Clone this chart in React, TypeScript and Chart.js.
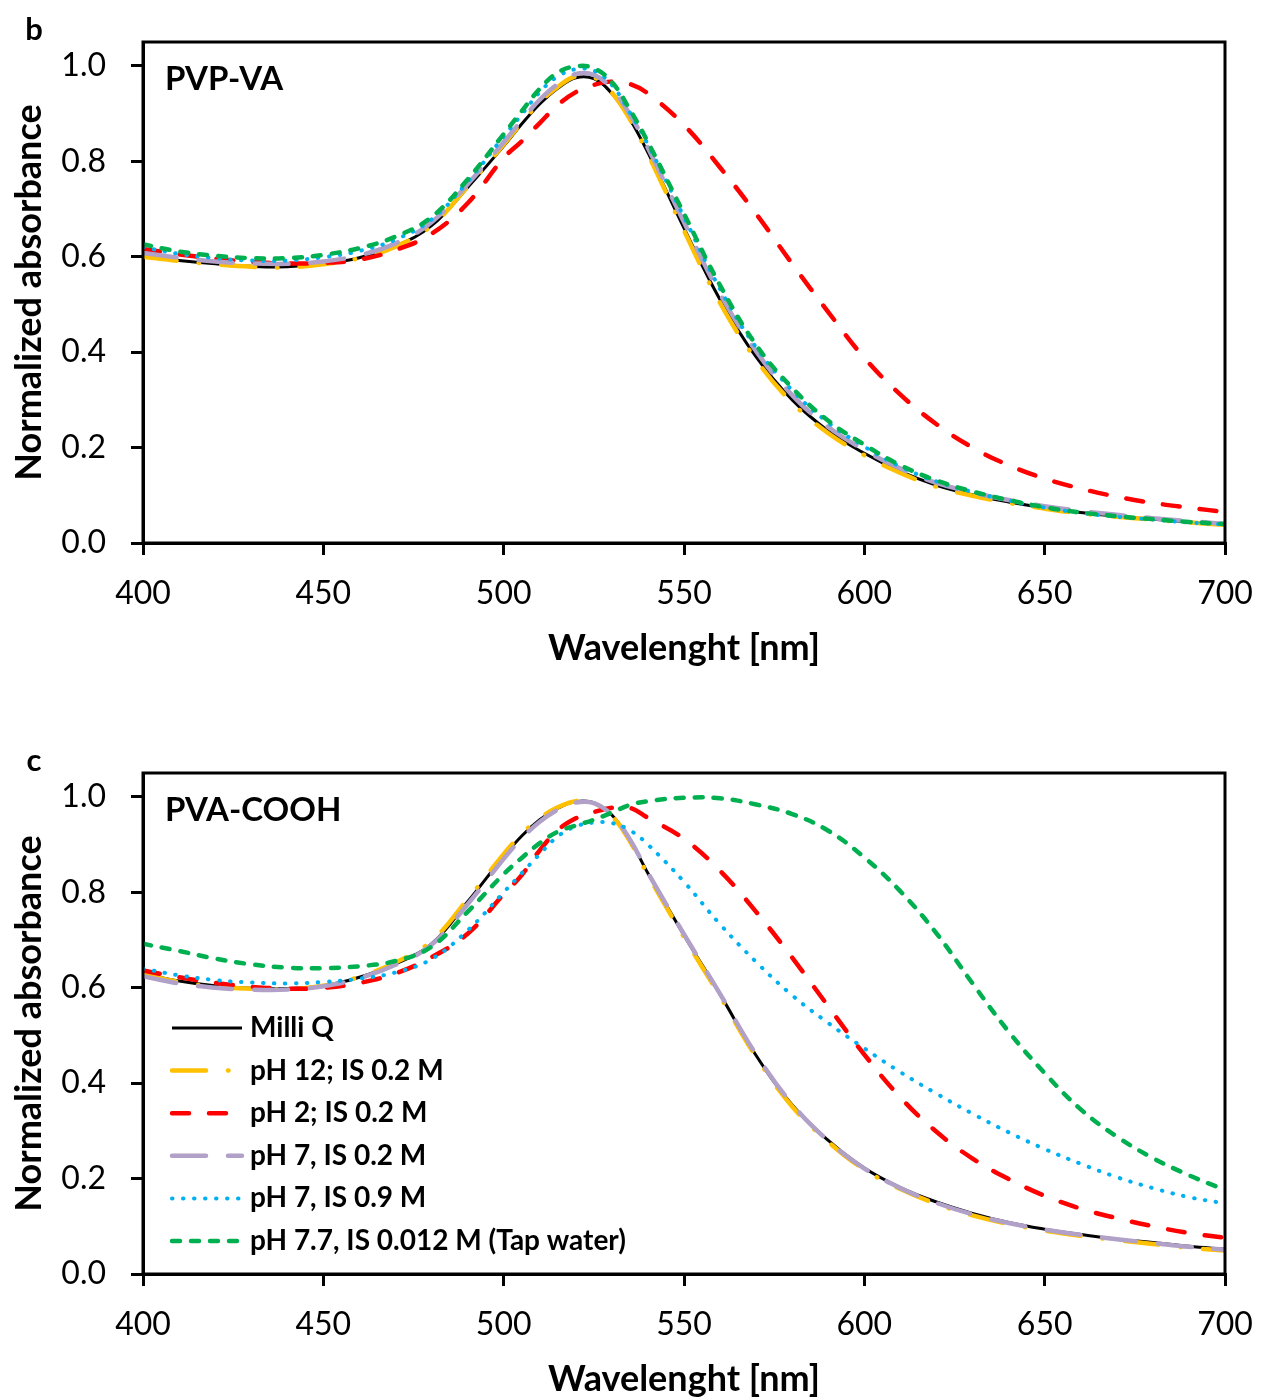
import { useEffect, useRef } from "react";
import { Chart, registerables } from "chart.js";

Chart.register(...registerables);

// ---------- data ----------
const wavelengths = [
  400, 410, 420, 430, 440, 450, 460, 470, 480, 490, 500, 505, 510, 515, 520, 525, 530, 535, 540,
  550, 560, 570, 580, 590, 600, 610, 620, 630, 640, 650, 660, 670, 680, 690, 700,
];

const seriesLabels = [
  "Milli Q",
  "pH 12; IS 0.2 M",
  "pH 2; IS 0.2 M",
  "pH 7, IS 0.2 M",
  "pH 7, IS 0.9 M",
  "pH 7.7, IS 0.012 M (Tap water)",
];

const xTicks = [400, 450, 500, 550, 600, 650, 700];
const yTicks = [0.0, 0.2, 0.4, 0.6, 0.8, 1.0];

// Panel b: PVP-VA
const pvpMilliQ = [0.601, 0.592, 0.585, 0.580, 0.579, 0.585, 0.598, 0.622, 0.665, 0.745, 0.832, 0.878, 0.920, 0.953, 0.975, 0.973, 0.942, 0.888, 0.818, 0.660, 0.510, 0.390, 0.300, 0.235, 0.188, 0.150, 0.121, 0.101, 0.086, 0.074, 0.064, 0.056, 0.050, 0.044, 0.038];
const pvpPh12 = [0.600, 0.591, 0.584, 0.579, 0.578, 0.584, 0.597, 0.621, 0.665, 0.747, 0.835, 0.881, 0.923, 0.956, 0.978, 0.976, 0.944, 0.888, 0.815, 0.655, 0.503, 0.384, 0.294, 0.230, 0.184, 0.147, 0.118, 0.099, 0.084, 0.072, 0.062, 0.055, 0.049, 0.043, 0.038];
const pvpPh2 = [0.616, 0.605, 0.596, 0.589, 0.586, 0.587, 0.594, 0.614, 0.648, 0.712, 0.807, 0.842, 0.880, 0.918, 0.945, 0.960, 0.967, 0.962, 0.942, 0.876, 0.787, 0.690, 0.585, 0.484, 0.388, 0.311, 0.249, 0.200, 0.163, 0.135, 0.114, 0.097, 0.084, 0.074, 0.065];
const pvpPh7 = [0.608, 0.598, 0.590, 0.586, 0.585, 0.590, 0.603, 0.628, 0.672, 0.752, 0.840, 0.886, 0.929, 0.962, 0.983, 0.981, 0.952, 0.898, 0.828, 0.672, 0.522, 0.402, 0.310, 0.243, 0.195, 0.156, 0.126, 0.106, 0.090, 0.077, 0.067, 0.059, 0.052, 0.046, 0.040];
const pvpPh7Is09 = [0.620, 0.606, 0.597, 0.592, 0.592, 0.599, 0.612, 0.636, 0.678, 0.757, 0.852, 0.898, 0.945, 0.978, 0.993, 0.990, 0.960, 0.902, 0.835, 0.683, 0.532, 0.410, 0.320, 0.252, 0.202, 0.160, 0.129, 0.107, 0.089, 0.074, 0.063, 0.055, 0.049, 0.043, 0.039];
const pvpTap = [0.626, 0.611, 0.602, 0.597, 0.597, 0.604, 0.618, 0.642, 0.683, 0.762, 0.857, 0.905, 0.952, 0.986, 0.999, 0.995, 0.966, 0.908, 0.840, 0.690, 0.540, 0.415, 0.325, 0.256, 0.206, 0.163, 0.131, 0.108, 0.090, 0.075, 0.064, 0.056, 0.050, 0.044, 0.040];

// Panel c: PVA-COOH
const pvaMilliQ = [0.630, 0.614, 0.604, 0.599, 0.598, 0.604, 0.622, 0.650, 0.692, 0.780, 0.875, 0.918, 0.952, 0.976, 0.990, 0.988, 0.962, 0.910, 0.840, 0.710, 0.586, 0.458, 0.354, 0.280, 0.222, 0.181, 0.151, 0.127, 0.108, 0.094, 0.083, 0.073, 0.066, 0.058, 0.052];
const pvaPh12 = [0.628, 0.612, 0.602, 0.598, 0.597, 0.604, 0.623, 0.653, 0.698, 0.785, 0.880, 0.922, 0.955, 0.978, 0.991, 0.987, 0.960, 0.907, 0.836, 0.706, 0.582, 0.455, 0.351, 0.277, 0.219, 0.178, 0.147, 0.123, 0.105, 0.091, 0.080, 0.071, 0.063, 0.055, 0.049];
const pvaPh2 = [0.636, 0.622, 0.610, 0.602, 0.598, 0.600, 0.610, 0.630, 0.664, 0.713, 0.796, 0.836, 0.888, 0.930, 0.955, 0.968, 0.977, 0.977, 0.956, 0.912, 0.845, 0.759, 0.663, 0.561, 0.460, 0.370, 0.298, 0.242, 0.199, 0.164, 0.137, 0.117, 0.100, 0.086, 0.076];
const pvaPh7 = [0.624, 0.609, 0.600, 0.596, 0.596, 0.603, 0.620, 0.648, 0.690, 0.775, 0.870, 0.913, 0.948, 0.973, 0.988, 0.987, 0.962, 0.911, 0.841, 0.712, 0.587, 0.460, 0.356, 0.279, 0.221, 0.180, 0.149, 0.125, 0.107, 0.093, 0.082, 0.073, 0.065, 0.057, 0.051];
const pvaPh7Is09 = [0.640, 0.626, 0.616, 0.611, 0.609, 0.612, 0.619, 0.632, 0.660, 0.720, 0.800, 0.840, 0.880, 0.917, 0.938, 0.946, 0.945, 0.930, 0.900, 0.822, 0.733, 0.654, 0.584, 0.526, 0.473, 0.423, 0.378, 0.336, 0.297, 0.262, 0.231, 0.203, 0.180, 0.161, 0.148];
const pvaTap = [0.692, 0.677, 0.661, 0.649, 0.642, 0.641, 0.645, 0.656, 0.686, 0.759, 0.838, 0.872, 0.903, 0.927, 0.940, 0.952, 0.967, 0.983, 0.991, 0.998, 0.997, 0.984, 0.964, 0.929, 0.873, 0.802, 0.714, 0.609, 0.508, 0.421, 0.345, 0.288, 0.243, 0.207, 0.176];

// ---------- styles ----------
const FONT = "Lato, 'Open Sans', sans-serif";
const STYLES = [
  { color: "#000000", width: 3, dash: [] as number[], cap: "butt" },
  { color: "#FFC000", width: 4.5, dash: [34, 22, 0.5, 22], cap: "round" },
  { color: "#FF0000", width: 4.5, dash: [17, 20], cap: "round" },
  { color: "#B1A0C7", width: 4.5, dash: [34, 22], cap: "round" },
  { color: "#00B0F0", width: 4, dash: [0.5, 10.5], cap: "round" },
  { color: "#00B050", width: 4.5, dash: [8, 11], cap: "round" },
];

const W = 1261;
const H = 700;
const AREA_LEFT = 143;
const AREA_TOP = 42;
const AREA_BOTTOM = 543;
const RIGHT_PAD = 36;

function buildDatasets(valuesList: number[][]) {
  return valuesList.map((vals, i) => ({
    label: seriesLabels[i],
    data: wavelengths.map((x, j) => ({ x, y: vals[j] })),
    borderColor: STYLES[i].color,
    backgroundColor: STYLES[i].color,
    borderWidth: STYLES[i].width,
    borderDash: STYLES[i].dash,
    borderCapStyle: STYLES[i].cap,
    borderJoinStyle: "round",
    pointRadius: 0,
    tension: 0.4,
    fill: false,
    order: 6 - i,
  }));
}

function Panel(props: { letter: string; title: string; values: number[][]; legend: boolean; top: number }) {
  const ref = useRef<HTMLCanvasElement | null>(null);
  useEffect(() => {
    if (!ref.current) return;
    const decor = {
      id: "decor",
      afterDraw(chart: any) {
        const ctx = chart.ctx as CanvasRenderingContext2D;
        const a = chart.chartArea;
        ctx.save();
        ctx.strokeStyle = "#000";
        ctx.lineWidth = 3;
        ctx.setLineDash([]);
        ctx.strokeRect(a.left, a.top, a.right - a.left, a.bottom - a.top);
        ctx.fillStyle = "#000";
        ctx.textBaseline = "middle";
        ctx.textAlign = "center";
        ctx.font = `bold 31px ${FONT}`;
        ctx.fillText(props.letter, 34, 30);
        ctx.textAlign = "left";
        ctx.font = `bold 33px ${FONT}`;
        ctx.fillText(props.title, a.left + 22, a.top + 37);
        if (props.legend) {
          chart.data.datasets.forEach((d: any, i: number) => {
            const y = a.bottom - 246 + i * 42.6;
            ctx.save();
            ctx.strokeStyle = d.borderColor;
            ctx.lineWidth = d.borderWidth;
            ctx.lineCap = d.borderCapStyle;
            ctx.setLineDash(d.borderDash);
            ctx.beginPath();
            ctx.moveTo(a.left + 29, y);
            ctx.lineTo(a.left + 99, y);
            ctx.stroke();
            ctx.restore();
            ctx.fillStyle = "#000";
            ctx.textAlign = "left";
            ctx.textBaseline = "middle";
            ctx.font = `bold 28px ${FONT}`;
            ctx.fillText(d.label, a.left + 107, y);
          });
        }
        ctx.restore();
      },
    };
    const chart = new Chart(ref.current, {
      type: "line",
      data: { datasets: buildDatasets(props.values) as any },
      options: {
        responsive: false,
        animation: false,
        devicePixelRatio: 1,
        layout: { padding: { top: AREA_TOP, right: RIGHT_PAD, left: 0, bottom: 0 } },
        plugins: { legend: { display: false }, tooltip: { enabled: false } },
        scales: {
          x: {
            type: "linear",
            min: xTicks[0],
            max: xTicks[xTicks.length - 1],
            afterBuildTicks: (s: any) => {
              s.ticks = xTicks.map((v) => ({ value: v }));
            },
            afterFit: (s: any) => {
              s.height = H - AREA_BOTTOM;
              s.paddingRight = 0;
              s.paddingLeft = 0;
            },
            ticks: {
              color: "#000",
              font: { family: FONT, size: 32 },
              padding: 19,
              maxRotation: 0,
              autoSkip: false,
              callback: (v: any) => String(v),
            },
            grid: { drawOnChartArea: false, drawTicks: true, tickLength: 12, color: "#000", lineWidth: 3 },
            border: { display: true, color: "#000", width: 3 },
            title: {
              display: true,
              text: "Wavelenght [nm]",
              color: "#000",
              font: { family: FONT, size: 36, weight: "bold" },
              padding: { top: 0, bottom: 30 },
            },
          },
          y: {
            type: "linear",
            min: 0,
            max: 1.05,
            afterBuildTicks: (s: any) => {
              s.ticks = yTicks.map((v) => ({ value: v }));
            },
            afterFit: (s: any) => {
              s.width = AREA_LEFT;
              s.paddingTop = 0;
              s.paddingBottom = 0;
            },
            ticks: {
              color: "#000",
              font: { family: FONT, size: 32 },
              padding: 25,
              autoSkip: false,
              callback: (v: any) => Number(v).toFixed(1),
            },
            grid: { drawOnChartArea: false, drawTicks: true, tickLength: 12, color: "#000", lineWidth: 3 },
            border: { display: true, color: "#000", width: 3 },
            title: {
              display: true,
              text: "Normalized absorbance",
              color: "#000",
              font: { family: FONT, size: 36, weight: "bold" },
              padding: { top: 8, bottom: 0 },
            },
          },
        },
      } as any,
      plugins: [decor],
    });
    return () => chart.destroy();
  }, []);
  return (
    <canvas
      ref={ref}
      width={W}
      height={H}
      style={{ position: "absolute", left: 0, top: props.top, width: W, height: H, display: "block" }}
    />
  );
}

export default function App() {
  return (
    <div
      style={{
        position: "absolute",
        left: 0,
        top: 0,
        width: W,
        height: 1398,
        overflow: "hidden",
        background: "#fff",
      }}
    >
      <Panel
        letter="b"
        title="PVP-VA"
        values={[pvpMilliQ, pvpPh12, pvpPh2, pvpPh7, pvpPh7Is09, pvpTap]}
        legend={false}
        top={0}
      />
      <Panel
        letter="c"
        title="PVA-COOH"
        values={[pvaMilliQ, pvaPh12, pvaPh2, pvaPh7, pvaPh7Is09, pvaTap]}
        legend={true}
        top={731}
      />
    </div>
  );
}
